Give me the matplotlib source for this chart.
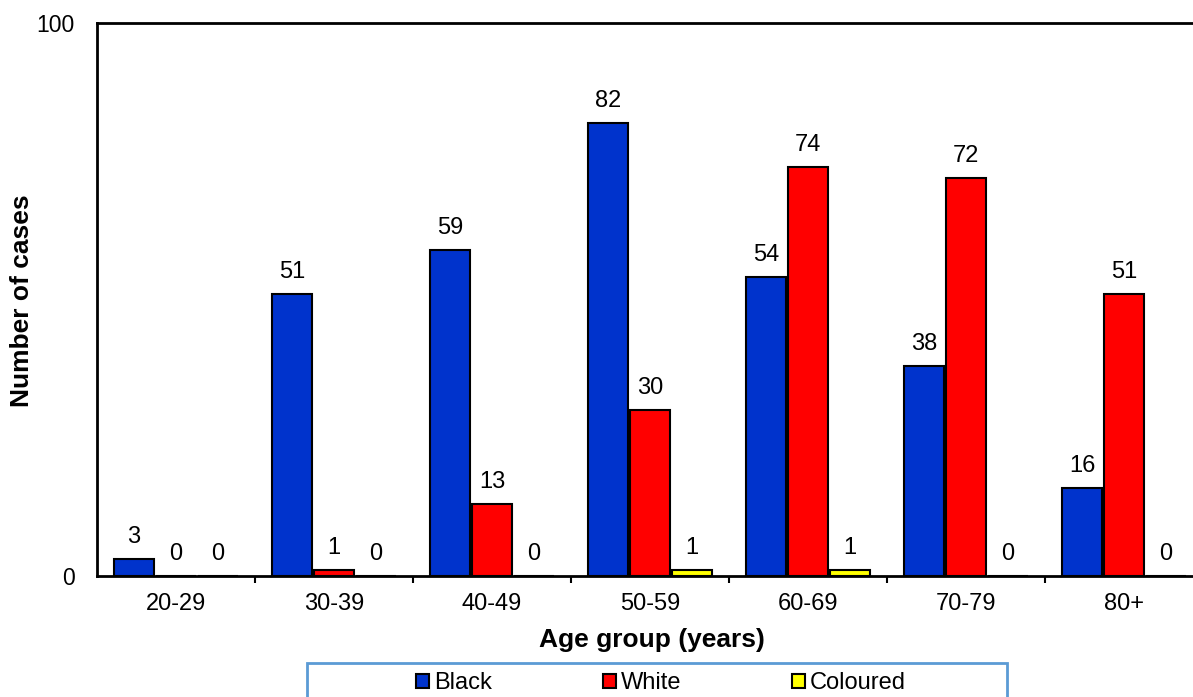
import matplotlib
matplotlib.use("Agg")
import matplotlib.pyplot as plt
from matplotlib.patches import Rectangle
import numpy as np

plt.rcParams['font.family'] = ['Liberation Sans', 'DejaVu Sans']

age_groups = ["20-29", "30-39", "40-49", "50-59", "60-69", "70-79", "80+"]
black = [3, 51, 59, 82, 54, 38, 16]
white = [0, 1, 13, 30, 74, 72, 51]
coloured = [0, 0, 0, 1, 1, 0, 0]

series = [("Black", black, "#0033CC"),
          ("White", white, "#FF0000"),
          ("Coloured", coloured, "#FFFF00")]

W, H = 1193, 697
fig = plt.figure(figsize=(W / 100, H / 100), dpi=100)
ax = fig.add_axes([97 / W, 121 / H, 1106 / W, 553 / H])

x = np.arange(len(age_groups))
step = 0.266
width = 0.253
for i, (name, vals, col) in enumerate(series):
    pos = x + (i - 1) * step
    ax.bar(pos, vals, width=width, color=col, edgecolor="black",
           linewidth=1.5, label=name, zorder=3)
    for px, v in zip(pos, vals):
        ax.annotate(str(v), (px, v), xytext=(0, 11.5), textcoords="offset points",
                    ha="center", va="baseline", fontsize=17)

ax.set_xlim(-0.5, len(age_groups) - 0.5)
ax.set_ylim(0, 100)
ax.set_yticks([0, 100])
ax.tick_params(axis="y", length=0, pad=16, labelsize=16.5)
ax.set_xticks(x)
ax.set_xticklabels(age_groups)
ax.tick_params(axis="x", which="major", length=0, pad=12, labelsize=17)
ax.set_xticks(np.arange(0.5, len(age_groups) - 0.5, 1.0), minor=True)
ax.tick_params(axis="x", which="minor", length=5, width=1.5, direction="out")

for s in ax.spines.values():
    s.set_linewidth(2)
    s.set_color("black")

fig.text(22 / W, 1 - 301 / H, "Number of cases", rotation=90, ha="center",
         va="center", fontsize=19, fontweight="bold")
fig.text(652 / W, 1 - 640 / H, "Age group (years)", ha="center",
         va="center", fontsize=19, fontweight="bold")

# legend frame extends below the figure edge
fig.patches.append(Rectangle((307 / W, -0.05), 700 / W, 0.05 + 34 / H,
                             transform=fig.transFigure, fill=False,
                             edgecolor="#5B9BD5", linewidth=2))
fig.legend(loc="center", bbox_to_anchor=(661 / W, 14 / H), ncol=3,
           frameon=False, fontsize=17, handlelength=0.55, handleheight=0.55,
           handletextpad=0.2, columnspacing=4.7)

fig.savefig("out.png", dpi=100)
